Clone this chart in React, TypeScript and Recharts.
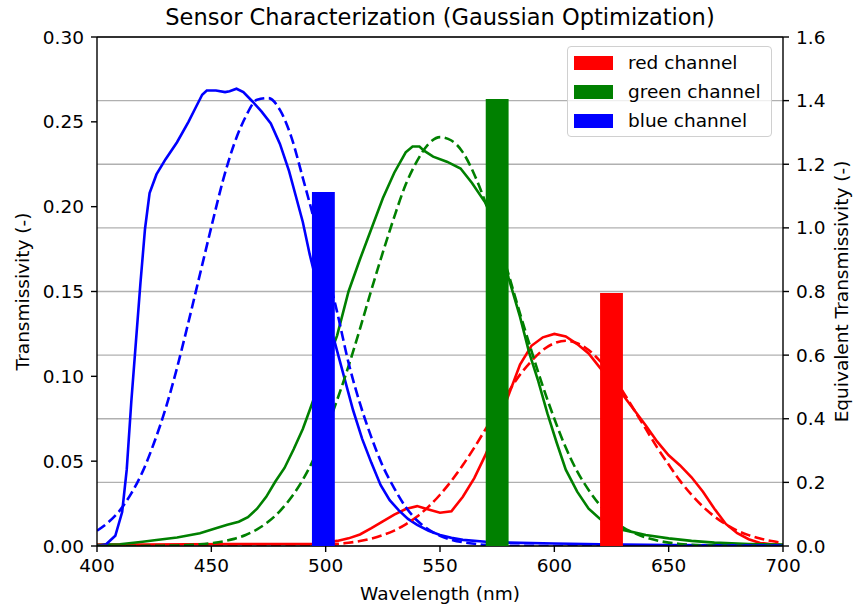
import React from 'react';
import {
  ComposedChart, Line, XAxis, YAxis, CartesianGrid, ReferenceArea, ReferenceLine, Legend,
} from 'recharts';

// ---- data ----
const xTicks = [400, 450, 500, 550, 600, 650, 700];
const leftTicks = [0, 0.05, 0.1, 0.15, 0.2, 0.25, 0.3];
const rightTicks = [0, 0.2, 0.4, 0.6, 0.8, 1.0, 1.2, 1.4, 1.6];

const channelNames = ['red channel', 'green channel', 'blue channel'];
const channelColors = ['#ff0000', '#008000', '#0000ff'];

// equivalent (bar) transmissivity per channel: center wavelength and height (right axis)
const bandCenters = [625, 575, 499];
const bandHeights = [0.795, 1.405, 1.113];
const BAND_WIDTH = 10;

// measured curves
const redWl = [400, 420, 440, 460, 480, 495, 500, 505, 510, 515, 520, 525, 530, 535, 540, 545, 550, 555, 560, 565, 570, 575, 580, 585, 590, 595, 600, 605, 610, 615, 620, 625, 630, 635, 640, 645, 650, 655, 660, 665, 670, 675, 680, 685, 690, 695, 700];
const redT = [0.0008, 0.0008, 0.001, 0.0012, 0.0012, 0.0012, 0.002, 0.003, 0.0045, 0.0068, 0.0105, 0.0145, 0.0185, 0.0218, 0.0235, 0.0215, 0.0196, 0.0205, 0.029, 0.040, 0.054, 0.071, 0.089, 0.107, 0.118, 0.123, 0.125, 0.1235, 0.119, 0.1135, 0.105, 0.097, 0.089, 0.080, 0.071, 0.0615, 0.0535, 0.0475, 0.0405, 0.032, 0.022, 0.013, 0.0075, 0.004, 0.0018, 0.001, 0.0006];

const greenWl = [400, 410, 420, 426, 435, 445, 452, 457, 462, 466, 470, 474, 478, 482, 486, 490, 493, 497, 500, 505, 510, 515, 520, 525, 530, 535, 538, 541, 543, 547, 553, 559, 564, 570, 575, 580, 585, 589, 593, 597, 601, 605, 610, 615, 620, 625, 630, 640, 650, 660, 670, 685, 700];
const greenT = [0.0005, 0.001, 0.0025, 0.0035, 0.005, 0.0075, 0.0105, 0.0125, 0.0143, 0.017, 0.022, 0.029, 0.038, 0.046, 0.057, 0.069, 0.080, 0.095, 0.106, 0.124, 0.150, 0.169, 0.187, 0.205, 0.220, 0.232, 0.2355, 0.2355, 0.233, 0.2295, 0.2265, 0.2225, 0.214, 0.202, 0.184, 0.158, 0.135, 0.114, 0.097, 0.078, 0.061, 0.045, 0.032, 0.022, 0.016, 0.012, 0.0095, 0.0065, 0.0045, 0.003, 0.002, 0.0012, 0.0008];

const blueWl = [400, 404, 408, 411, 413, 415, 417, 419, 421, 423, 426, 430, 435, 440, 443, 446, 448, 452, 456, 458, 461, 464, 468, 472, 476, 480, 484, 487, 490, 493, 497, 500, 504, 508, 512, 516, 520, 524, 528, 532, 536, 540, 545, 550, 555, 560, 570, 580, 600, 620, 650, 700];
const blueT = [0, 0.001, 0.006, 0.02, 0.045, 0.085, 0.12, 0.155, 0.187, 0.208, 0.219, 0.228, 0.238, 0.25, 0.258, 0.266, 0.2685, 0.2685, 0.2675, 0.268, 0.2695, 0.2675, 0.262, 0.256, 0.249, 0.237, 0.221, 0.206, 0.191, 0.172, 0.15, 0.137, 0.12, 0.1, 0.08, 0.063, 0.049, 0.036, 0.027, 0.021, 0.016, 0.0125, 0.009, 0.0065, 0.0048, 0.0036, 0.0025, 0.002, 0.0015, 0.001, 0.0005, 0.0002];

// gaussian fits (dashed), read on a 5 nm grid
const fitWl = [400, 405, 410, 415, 420, 425, 430, 435, 440, 445, 450, 455, 460, 465, 470, 475, 480, 485, 490, 495, 500, 505, 510, 515, 520, 525, 530, 535, 540, 545, 550, 555, 560, 565, 570, 575, 580, 585, 590, 595, 600, 605, 610, 615, 620, 625, 630, 635, 640, 645, 650, 655, 660, 665, 670, 675, 680, 685, 690, 695, 700];
const redFit = [0, 0, 0, 0, 0, 0, 0, 0, 0, 0, 0, 0, 0, 0, 0.0001, 0.0001, 0.0001, 0.0001, 0.0002, 0.0004, 0.0008, 0.0012, 0.0019, 0.0029, 0.0044, 0.0064, 0.0091, 0.0128, 0.0174, 0.0232, 0.0302, 0.0384, 0.0477, 0.058, 0.069, 0.080, 0.091, 0.101, 0.109, 0.1155, 0.1195, 0.121, 0.1195, 0.1155, 0.109, 0.101, 0.091, 0.080, 0.069, 0.058, 0.048, 0.0384, 0.0302, 0.0232, 0.0174, 0.0128, 0.0091, 0.0064, 0.0044, 0.0029, 0.0019];
const greenFit = [0, 0, 0, 0, 0, 0.0001, 0.0002, 0.0003, 0.0006, 0.001, 0.0017, 0.0027, 0.0042, 0.0065, 0.0098, 0.0144, 0.0206, 0.0287, 0.039, 0.052, 0.068, 0.086, 0.106, 0.128, 0.151, 0.173, 0.194, 0.213, 0.227, 0.237, 0.241, 0.239, 0.232, 0.219, 0.202, 0.182, 0.160, 0.137, 0.115, 0.094, 0.075, 0.058, 0.044, 0.033, 0.024, 0.017, 0.011, 0.0077, 0.005, 0.0032, 0.002, 0.0012, 0.0007, 0.0004, 0.0002, 0.0001, 0.0001, 0, 0, 0, 0];
const blueFit = [0.009, 0.014, 0.021, 0.031, 0.044, 0.061, 0.081, 0.105, 0.132, 0.160, 0.188, 0.215, 0.237, 0.253, 0.263, 0.264, 0.257, 0.241, 0.217, 0.192, 0.165, 0.138, 0.108, 0.084, 0.064, 0.047, 0.034, 0.023, 0.015, 0.0097, 0.006, 0.0037, 0.0022, 0.0013, 0.0007, 0.0004, 0.0002, 0.0001, 0.0001, 0, 0, 0, 0, 0, 0, 0, 0, 0, 0, 0, 0, 0, 0, 0, 0, 0, 0, 0, 0, 0, 0];

const toRows = (wl: number[], t: number[]) => wl.map((w, i) => ({ wl: w, t: t[i] }));

const measured = [toRows(redWl, redT), toRows(greenWl, greenT), toRows(blueWl, blueT)];
const fits = [toRows(fitWl, redFit), toRows(fitWl, greenFit), toRows(fitWl, blueFit)];

const FONT = '"DejaVu Sans", Verdana, sans-serif';
const FS = 18.5;

const LeftTitle = (props: any) => {
  const vb = props.viewBox || { x: 0, y: 37, width: 97, height: 509 };
  const cx = vb.x + 22;
  const cy = vb.y + vb.height / 2;
  return (
    <text x={cx} y={cy} transform={`rotate(-90, ${cx}, ${cy})`} textAnchor="middle"
      dominantBaseline="central" fontSize={FS} fill="#000" fontFamily={FONT}>
      Transmissivity (-)
    </text>
  );
};

const RightTitle = (props: any) => {
  const vb = props.viewBox || { x: 783, y: 37, width: 71, height: 509 };
  const cx = vb.x + 58;
  const cy = vb.y + vb.height / 2;
  return (
    <text x={cx} y={cy} transform={`rotate(-90, ${cx}, ${cy})`} textAnchor="middle"
      dominantBaseline="central" fontSize={FS} fill="#000" fontFamily={FONT}>
      Equivalent Transmissivity (-)
    </text>
  );
};

const LegendBox = () => (
  <div style={{
    border: '1px solid #d0d0d0', borderRadius: 4, background: 'rgba(255,255,255,0.8)',
    width: 205, height: 91, position: 'relative', fontFamily: FONT, fontSize: FS, color: '#000',
    boxSizing: 'border-box',
  }}>
    {channelNames.map((name, i) => (
      <div key={name} style={{ position: 'absolute', left: 0, top: 2 + i * 29, height: 28, width: '100%' }}>
        <div style={{ position: 'absolute', left: 6, top: 7, width: 39, height: 14, background: channelColors[i] }} />
        <div style={{ position: 'absolute', left: 60, top: 0, lineHeight: '28px', whiteSpace: 'nowrap' }}>{name}</div>
      </div>
    ))}
  </div>
);

export default function App() {
  const axisStroke = { stroke: '#000', strokeWidth: 1.4 };
  const tickStyle = { fontSize: FS, fill: '#000', fontFamily: FONT };
  return (
    <div style={{ position: 'absolute', left: 0, top: 0, width: 854, height: 609, background: '#fff' }}>
      <div style={{
        position: 'absolute', left: 97, top: 5, width: 686, textAlign: 'center',
        fontFamily: FONT, fontSize: 22.5, lineHeight: '24px', color: '#000',
      }}>
        Sensor Characterization (Gaussian Optimization)
      </div>
      <ComposedChart width={854} height={609} margin={{ top: 37, right: 0, bottom: 0, left: 0 }}
        style={{ fontFamily: FONT }}>
        <CartesianGrid yAxisId="right" vertical={false} stroke="#b0b0b0" strokeWidth={1.4} />
        <XAxis dataKey="wl" type="number" domain={[400, 700]} ticks={xTicks} allowDataOverflow
          height={63} tickSize={6} tickMargin={7} axisLine={axisStroke} tickLine={axisStroke} tick={tickStyle}
          label={{ value: 'Wavelength (nm)', position: 'insideBottom', offset: 9, fontSize: FS, fill: '#000', fontFamily: FONT }} />
        <YAxis yAxisId="left" orientation="left" domain={[0, 0.3]} ticks={leftTicks} allowDataOverflow
          width={97} tickSize={6} tickMargin={7} axisLine={axisStroke} tickLine={axisStroke} tick={tickStyle}
          tickFormatter={(v: number) => v.toFixed(2)} label={<LeftTitle />} />
        <YAxis yAxisId="right" orientation="right" domain={[0, 1.6]} ticks={rightTicks} allowDataOverflow
          width={71} tickSize={6} tickMargin={7} axisLine={axisStroke} tickLine={axisStroke} tick={tickStyle}
          tickFormatter={(v: number) => v.toFixed(1)} label={<RightTitle />} />
        <ReferenceLine yAxisId="left" y={0.3} stroke="#000" strokeWidth={1.4} />
        {measured.map((rows, i) => (
          <Line key={'m' + i} yAxisId="left" data={rows} dataKey="t" type="linear" stroke={channelColors[i]}
            strokeWidth={2.6} dot={false} activeDot={false} isAnimationActive={false} legendType="none" />
        ))}
        {fits.map((rows, i) => (
          <Line key={'f' + i} yAxisId="left" data={rows} dataKey="t" type="monotone" stroke={channelColors[i]}
            strokeWidth={2.6} strokeDasharray="10 4.5" dot={false} activeDot={false} isAnimationActive={false} legendType="none" />
        ))}
        {bandCenters.map((c, i) => (
          <ReferenceArea key={'b' + i} yAxisId="right" x1={c - BAND_WIDTH / 2} x2={c + BAND_WIDTH / 2}
            y1={0} y2={bandHeights[i]} fill={channelColors[i]} fillOpacity={1} stroke="none"
            {...({ zIndex: 500 } as any)} />
        ))}
        <Legend layout="horizontal" verticalAlign="middle" align="center" content={() => <LegendBox />}
          wrapperStyle={{ position: 'absolute', left: 567, top: 46, width: 205, height: 91 }} />
      </ComposedChart>
    </div>
  );
}
